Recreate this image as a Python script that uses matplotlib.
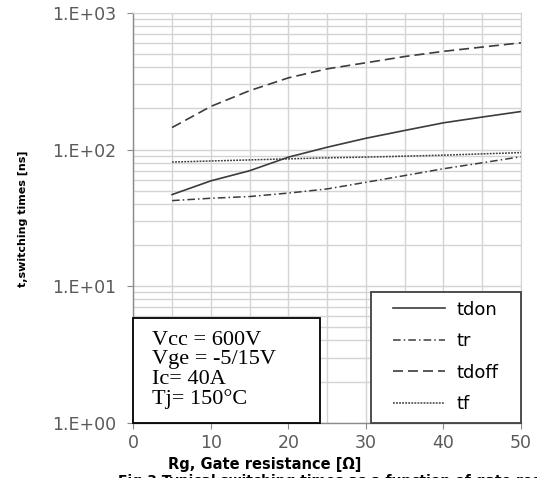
import matplotlib.pyplot as plt
from matplotlib.patches import Rectangle
from matplotlib.ticker import FixedLocator, NullFormatter

# --- data ---
rg = [5, 10, 15, 20, 25, 30, 35, 40, 45, 50]
tdon = [46.8, 59, 70, 88, 104, 121, 138, 157, 173, 190]
tr = [42.3, 44, 45.3, 48, 51.5, 57.6, 64.5, 72.4, 80, 88.7]
tdoff = [145, 207, 270, 335, 390, 432, 480, 524, 563, 605]
tf = [81, 82.5, 84, 85.5, 87, 88, 89.5, 91, 93, 95]

x_ticks = [0, 10, 20, 30, 40, 50]
y_ticks = [1, 10, 100, 1000]
y_ticklabels = ["1.E+00", "1.E+01", "1.E+02", "1.E+03"]
cond_text = "Vcc = 600V\nVge = -5/15V\nIc= 40A\nTj= 150\u00b0C"

W, H = 537, 478
fig = plt.figure(figsize=(W / 100, H / 100), dpi=100)
ax = fig.add_axes([133.3 / W, 1 - 422.7 / H, (521 - 133.3) / W, (422.7 - 13) / H])

ax.set_yscale("log")
ax.set_xlim(0, 50)
ax.set_ylim(1, 1000)

# grid: every 5 ohm, every log minor step
grid_c = "#d4d4d4"
ax.xaxis.set_minor_locator(FixedLocator(list(range(0, 51, 5))))
ax.yaxis.set_minor_locator(FixedLocator([m * 10 ** e for e in range(0, 3) for m in range(2, 10)]))
ax.yaxis.set_minor_formatter(NullFormatter())
ax.grid(True, which="both", color=grid_c, linewidth=1.0)
ax.set_axisbelow(True)
for s in ["top", "right"]:
    ax.spines[s].set_color(grid_c)
for s in ["left", "bottom"]:
    ax.spines[s].set_color("#8a8a8a")
    ax.spines[s].set_linewidth(1.0)

ax.set_xticks(x_ticks)
ax.set_yticks(y_ticks)
ax.set_yticklabels(y_ticklabels)
ax.tick_params(axis="both", which="major", colors="#8a8a8a", labelcolor="#5a5a5a",
               labelsize=12.5, direction="out")
ax.tick_params(axis="y", which="major", length=4, pad=8)
ax.tick_params(axis="x", which="major", length=4, pad=4)
ax.tick_params(which="minor", length=0)

lc = "#3c3c3c"
ax.plot(rg, tdon, color=lc, lw=1.2, ls="-", label="tdon", zorder=2)
ax.plot(rg, tr, color=lc, lw=1.1, ls=(0, (5, 2, 1, 2)), label="tr", zorder=2)
ax.plot(rg, tdoff, color=lc, lw=1.2, ls=(0, (6, 3)), label="tdoff", zorder=2)
ax.plot(rg, tf, color=lc, lw=1.1, ls=(0, (1.2, 0.8)), label="tf", zorder=2)

ax.set_xlabel("Rg, Gate resistance [\u03a9]", fontsize=10.5, fontweight="bold")
ax.xaxis.set_label_coords((265 - 133.3) / (521 - 133.3), -(457 - 422.7) / (422.7 - 13), transform=ax.transAxes)
ax.set_ylabel("t,switching times [ns]", fontsize=8, fontweight="bold")
ax.yaxis.set_label_coords(-(133.3 - 28) / (521 - 133.3), (422.7 - 219) / (422.7 - 13), transform=ax.transAxes)

# conditions box
ax.add_patch(Rectangle((0, 1), 24.1, 4.88, facecolor="white", edgecolor="black",
                       lw=1.3, zorder=3, clip_on=False))
fig.text(151.7 / W, 1 - 370 / H, cond_text, family="Liberation Serif", fontsize=16,
         va="center", ha="left", linespacing=1.03, zorder=4)

# legend box
ax.add_patch(Rectangle((30.6, 1), 19.4, 8.02, facecolor="white", edgecolor="#404040",
                       lw=1.3, zorder=3, clip_on=False))
leg = ax.legend(loc="center left", bbox_to_anchor=(393 / W, 1 - 357 / H),
                bbox_transform=fig.transFigure, frameon=False, fontsize=13,
                handlelength=2.9, handletextpad=0.6, labelspacing=0.75,
                borderpad=0, borderaxespad=0)
leg.set_zorder(5)

# caption cut off at the bottom of the image
fig.text(118 / W, 1 - 474 / H, "Fig.3 Typical switching times as a function of gate resistor",
         fontsize=10, fontweight="bold", va="top", ha="left")

fig.savefig("out.png", dpi=100)
